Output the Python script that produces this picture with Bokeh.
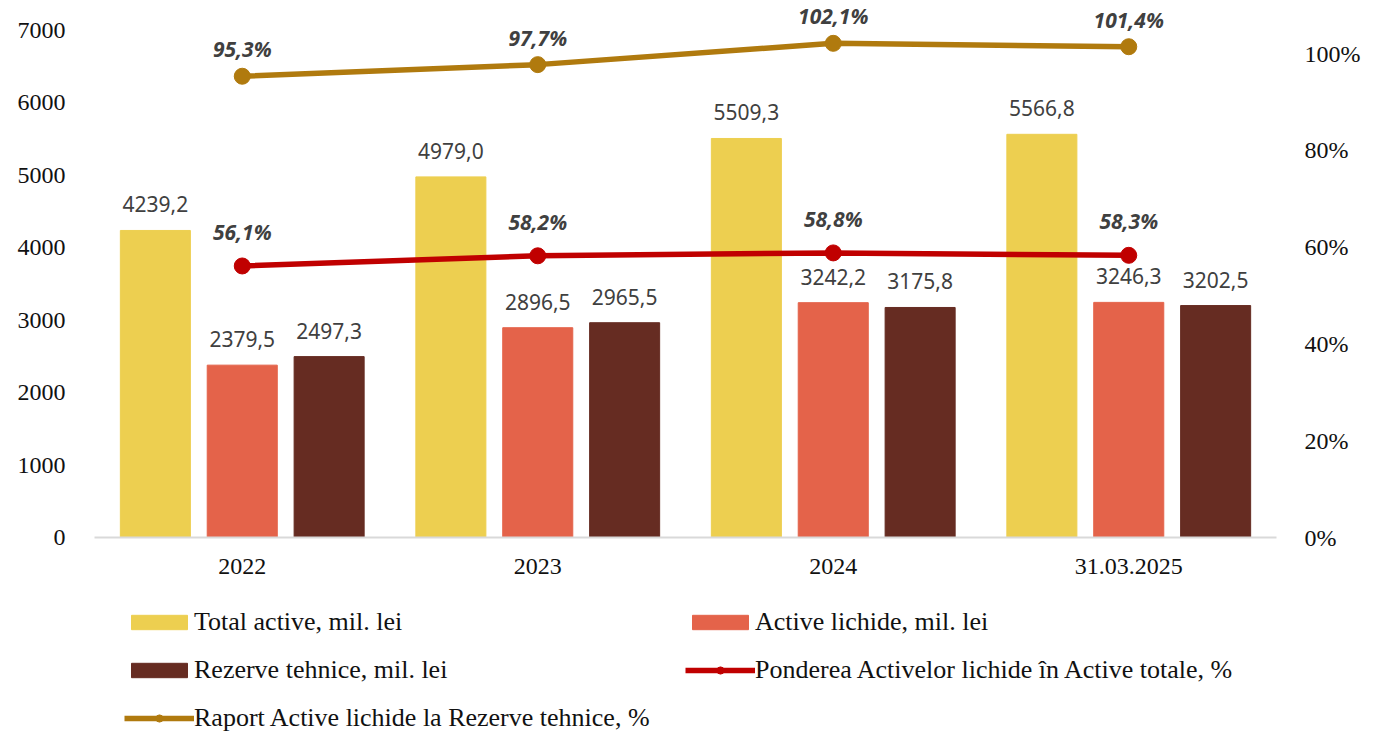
from bokeh.plotting import figure
from bokeh.layouts import column
from bokeh.models import (FactorRange, Range1d, LinearAxis, FixedTicker, PrintfTickFormatter,
                          Legend, LegendItem, ColumnDataSource)
from bokeh.transform import dodge
from bokeh.core.properties import value
from bokeh.embed import file_html
from bokeh.resources import INLINE

categories = ["2022", "2023", "2024", "31.03.2025"]
total_active = [4239.2, 4979.0, 5509.3, 5566.8]
active_lichide = [2379.5, 2896.5, 3242.2, 3246.3]
rezerve_tehnice = [2497.3, 2965.5, 3175.8, 3202.5]
ponderea = [56.1, 58.2, 58.8, 58.3]
raport = [95.3, 97.7, 102.1, 101.4]
left_ticks = [0, 1000, 2000, 3000, 4000, 5000, 6000, 7000]
right_ticks = [0, 20, 40, 60, 80, 100]
legend_labels = ["Total active, mil. lei", "Active lichide, mil. lei",
                 "Rezerve tehnice, mil. lei",
                 "Ponderea Activelor lichide în Active totale, %",
                 "Raport Active lichide la Rezerve tehnice, %"]

SERIF = "Liberation Serif"
SANS = value("Noto Sans")

def fmt(v, suffix=""):
    return f"{v:.1f}".replace(".", ",") + suffix

src = ColumnDataSource(dict(
    cat=categories,
    total=total_active, lich=active_lichide, rez=rezerve_tehnice,
    pond=ponderea, rap=raport,
    total_l=[fmt(v) for v in total_active],
    lich_l=[fmt(v) for v in active_lichide],
    rez_l=[fmt(v) for v in rezerve_tehnice],
    pond_l=[fmt(v, "%") for v in ponderea],
    rap_l=[fmt(v, "%") for v in raport],
))

FRAME_H = 537
BL, BR = 94, 90
# 7000 sits 30 px below frame top (507 px for 7000); 100% sits 484 px above zero
p = figure(x_range=FactorRange(*categories), y_range=Range1d(0, 7000 * FRAME_H / 507),
           width=1366, height=600,
           min_border_left=BL, min_border_right=BR, min_border_top=0, min_border_bottom=600 - FRAME_H,
           output_backend="svg", toolbar_location=None)
p.outline_line_color = None
p.xgrid.visible = False
p.ygrid.visible = False

p.extra_y_ranges = {"pct": Range1d(0, 100 * FRAME_H / 484)}

YEL, RED, BRN = "#EDCF50", "#E4634A", "#662C22"
LRED, GOLD = "#C00000", "#B07A0E"
W, OFF = 0.237, 0.294

p.vbar(x=dodge("cat", -OFF, range=p.x_range), top="total", width=W, color=YEL, source=src)
p.vbar(x=dodge("cat", 0, range=p.x_range), top="lich", width=W, color=RED, source=src)
p.vbar(x=dodge("cat", OFF, range=p.x_range), top="rez", width=W, color=BRN, source=src)

p.line(x="cat", y="pond", line_width=5.5, color=LRED, source=src, y_range_name="pct")
p.scatter(x="cat", y="pond", size=16, color=LRED, source=src, y_range_name="pct")
p.line(x="cat", y="rap", line_width=5.5, color=GOLD, source=src, y_range_name="pct")
p.scatter(x="cat", y="rap", size=16, color=GOLD, source=src, y_range_name="pct")

lab_kw = dict(text_font=SANS, text_font_size="21px", text_color="#404040",
              text_align="center", text_baseline="bottom", source=src)
p.text(x=dodge("cat", -OFF, range=p.x_range), y="total", text="total_l", y_offset=-18, **lab_kw)
p.text(x=dodge("cat", 0, range=p.x_range), y="lich", text="lich_l", y_offset=-18, **lab_kw)
p.text(x=dodge("cat", OFF, range=p.x_range), y="rez", text="rez_l", y_offset=-18, **lab_kw)
pk = dict(lab_kw)
pk["text_font_style"] = "bold italic"
pk["text_font_size"] = "21px"
p.text(x="cat", y="pond", text="pond_l", y_offset=-20, y_range_name="pct", **pk)
p.text(x="cat", y="rap", text="rap_l", y_offset=-13, y_range_name="pct", **pk)

def style_axis(a, standoff):
    a.axis_line_color = None
    a.major_tick_line_color = None
    a.minor_tick_line_color = None
    a.major_label_standoff = standoff
    a.major_label_text_font = SERIF
    a.major_label_text_font_size = "24px"
    a.major_label_text_color = "#111111"

ax = p.yaxis[0]
ax.ticker = FixedTicker(ticks=left_ticks)
style_axis(ax, 23)

rax = LinearAxis(y_range_name="pct", ticker=FixedTicker(ticks=right_ticks),
                 formatter=PrintfTickFormatter(format="%d%%"))
style_axis(rax, 22)
p.add_layout(rax, "right")

xa = p.xaxis[0]
style_axis(xa, 15)
xa.axis_line_color = "#D9D9D9"
xa.axis_line_width = 2

# legend panel (a second figure, no axes); its sample glyphs sit outside its visible range
q = figure(width=1366, height=147, x_range=Range1d(0, 1), y_range=Range1d(0, 1),
           x_axis_type=None, y_axis_type=None,
           min_border_left=BL, min_border_right=BR, min_border_top=0, min_border_bottom=0,
           output_backend="svg", toolbar_location=None)
q.outline_line_color = None
q.xgrid.visible = False
q.ygrid.visible = False
hidden = ColumnDataSource(dict(x=[-10, -11], y=[-10, -10]))
d1 = q.vbar(x="x", top="y", width=0.1, color=YEL, source=hidden)
d2 = q.vbar(x="x", top="y", width=0.1, color=RED, source=hidden)
d3 = q.vbar(x="x", top="y", width=0.1, color=BRN, source=hidden)
d4l = q.line(x="x", y="y", line_width=5.5, color=LRED, source=hidden)
d4c = q.scatter(x="x", y="y", size=13, color=LRED, source=hidden)
d5l = q.line(x="x", y="y", line_width=5.5, color=GOLD, source=hidden)
d5c = q.scatter(x="x", y="y", size=13, color=GOLD, source=hidden)

legend = Legend(items=[
    LegendItem(label=legend_labels[0], renderers=[d1], index=0),
    LegendItem(label=legend_labels[1], renderers=[d2], index=0),
    LegendItem(label=legend_labels[2], renderers=[d3], index=0),
    LegendItem(label=legend_labels[3], renderers=[d4l, d4c], index=0),
    LegendItem(label=legend_labels[4], renderers=[d5l, d5c], index=0),
], ncols=2, orientation="horizontal", location=(30, 14),
    glyph_width=70, glyph_height=18, label_height=29, label_width=473,
    label_standoff=0, spacing=18,
    padding=0, margin=0, border_line_color=None, background_fill_alpha=0,
    label_text_font=SERIF, label_text_font_size="26px", label_text_color="#111111")
q.add_layout(legend)

layout = column(p, q, spacing=0)
open("out.html", "w").write(file_html(layout, INLINE))
